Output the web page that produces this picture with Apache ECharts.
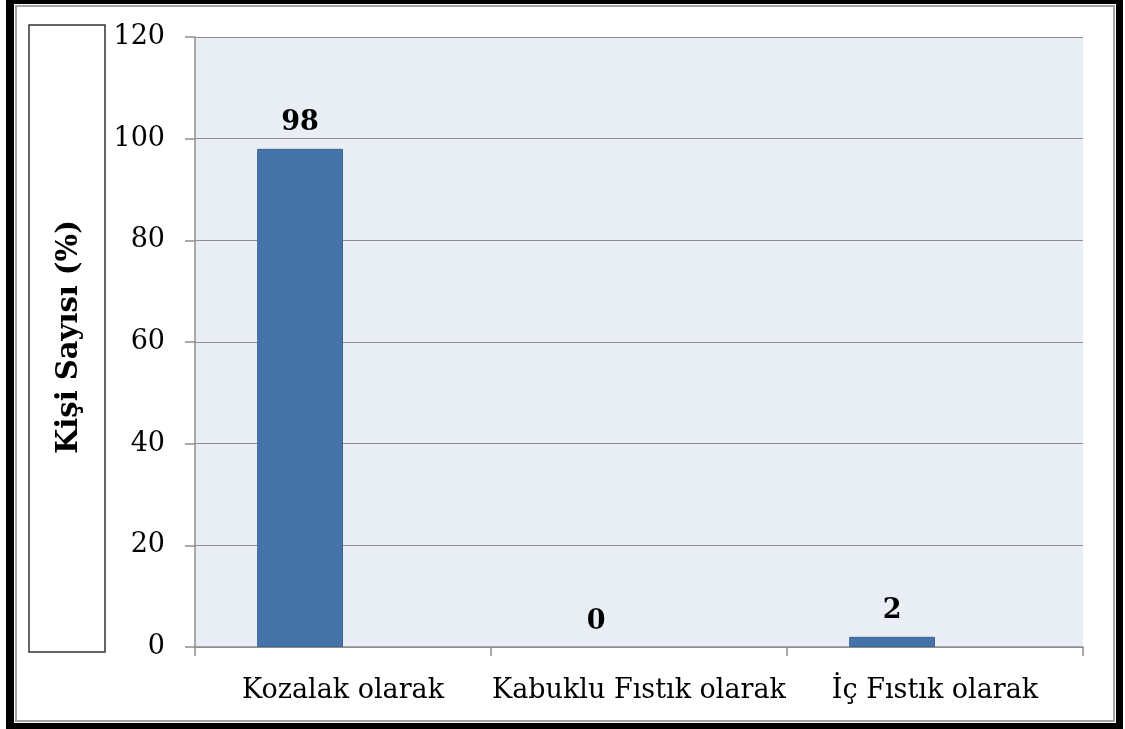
<!DOCTYPE html>
<html>
<head>
<meta charset="utf-8">
<title>Kişi Sayısı</title>
<script src="https://cdn.jsdelivr.net/npm/echarts@6/dist/echarts.min.js"></script>
<style>
  html, body { margin: 0; padding: 0; background: #fff; }
  .shadow { position: absolute; left: 6px; top: 0; width: 1117px; height: 729px; background: #000; }
  .card { position: absolute; left: 14px; top: 4px; width: 1102px; height: 719px; background: #fff; }
  .edge { position: absolute; left: 15px; top: 5px; width: 1096px; height: 713px; border: 2px solid #a3a3a3; }
  #chart { position: absolute; left: 0; top: 0; width: 1125px; height: 729px; }
</style>
</head>
<body>
<div class="shadow"></div>
<div class="card"></div>
<div class="edge"></div>
<div id="chart"></div>
<script>
const categories = ['Kozalak olarak', 'Kabuklu Fıstık olarak', 'İç Fıstık olarak'];
const values = [98, 0, 2];
// the source chart has a second, empty series, which pushes the bars left
const emptySeries = ['-', '-', '-'];
const yTicks = { min: 0, max: 120, step: 20 };
const yTitle = 'Kişi Sayısı (%)';

const font = 'DejaVu Serif';
const gridColor = '#8e8e8e';

const chart = echarts.init(document.getElementById('chart'), null, { renderer: 'canvas' });

// zero bar should not leave a stroke on the axis
const barData = values.map(v => v === 0 ? { value: v, itemStyle: { borderWidth: 0 } } : v);

chart.setOption({
  animation: false,
  backgroundColor: 'transparent',
  grid: {
    left: 195, right: 42, top: 37, bottom: 82,
    show: true, backgroundColor: '#e9edf4', borderWidth: 0
  },
  graphic: [
    {
      type: 'rect',
      shape: { x: 29, y: 25, width: 76, height: 627 },
      style: { fill: '#fff', stroke: '#333', lineWidth: 1.5 }
    },
    {
      type: 'text',
      x: 69, y: 337,
      rotation: Math.PI / 2,
      style: {
        text: yTitle,
        fontFamily: font, fontWeight: 'bold', fontSize: 29,
        fill: '#000', align: 'center', verticalAlign: 'middle'
      }
    }
  ],
  xAxis: {
    type: 'category',
    data: categories,
    axisLine: { lineStyle: { color: gridColor, width: 1.5 } },
    axisTick: { show: true, length: 9, lineStyle: { color: gridColor, width: 1.5 } },
    axisLabel: { interval: 0, color: '#000', fontFamily: font, fontSize: 27, margin: 30 }
  },
  yAxis: {
    type: 'value',
    min: yTicks.min, max: yTicks.max, interval: yTicks.step,
    axisLine: { show: true, lineStyle: { color: gridColor, width: 1.5 } },
    axisTick: { show: true, length: 10, lineStyle: { color: gridColor, width: 1.5 } },
    axisLabel: { color: '#000', fontFamily: font, fontSize: 27, margin: 30, padding: [5, 0, 0, 0] },
    splitLine: { show: true, lineStyle: { color: gridColor, width: 1.2 } }
  },
  series: [
    {
      type: 'bar',
      data: barData,
      barWidth: '29%',
      barGap: '0%',
      itemStyle: { color: '#4573a7', borderColor: '#3b6595', borderWidth: 1 },
      label: {
        show: true, position: 'top', distance: 12,
        color: '#000', fontFamily: font, fontWeight: 'bold', fontSize: 27
      }
    },
    {
      type: 'bar',
      data: emptySeries,
      barWidth: '29%',
      itemStyle: { color: '#aa4643' }
    }
  ]
});
</script>
</body>
</html>
